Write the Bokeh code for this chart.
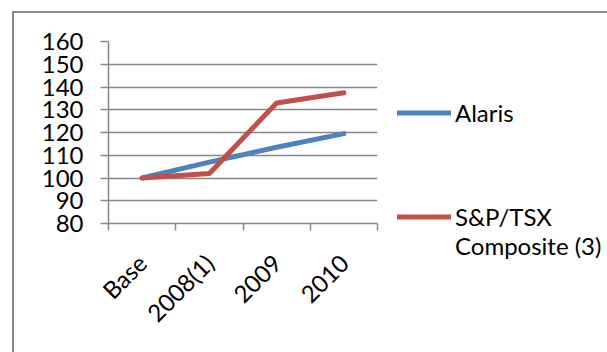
from bokeh.plotting import figure
from bokeh.models import Range1d, FixedTicker, Legend, LegendItem
from bokeh.embed import file_html
from bokeh.resources import INLINE
import math

categories = ["Base", "2008(1)", "2009", "2010"]
alaris = [100, 107, 113.5, 119.5]
sptsx = [100, 102, 133, 137.5]
y_ticks = [80, 90, 100, 110, 120, 130, 140, 150, 160]
series_names = ["Alaris", "S&P/TSX", "Composite (3)"]

FONT = "Lato"
FS = "24px"
GRAY = "#878787"

xs = [i + 0.5 for i in range(len(categories))]

p = figure(frame_width=269, frame_height=182, output_backend="svg", toolbar_location=None,
           x_range=Range1d(0, len(categories)), y_range=Range1d(80, 160),
           min_border_left=94, min_border_right=0, min_border_top=28, min_border_bottom=129)
p.styles = {"margin-left": "12px", "margin-top": "11px",
            "border-left": "2px solid #878787", "border-top": "2px solid #878787"}
p.outline_line_color = None

r1 = p.line(xs, alaris, line_color="#4F81BD", line_width=5, line_cap="round")
r2 = p.line(xs, sptsx, line_color="#C0504D", line_width=5, line_cap="round", line_join="round")
dummy = p.line([], [], line_alpha=0)

p.xgrid.visible = False
p.ygrid.ticker = FixedTicker(ticks=y_ticks)
p.ygrid.grid_line_color = GRAY
p.ygrid.grid_line_width = 1.5

xa = p.xaxis[0]
xa.ticker = FixedTicker(ticks=xs, minor_ticks=list(range(len(categories) + 1)))
xa.major_label_overrides = {x: c for x, c in zip(xs, categories)}
xa.major_tick_line_color = None
xa.minor_tick_line_color = GRAY
xa.minor_tick_line_width = 1.5
xa.minor_tick_out = 7
xa.minor_tick_in = 0
xa.axis_line_color = GRAY
xa.axis_line_width = 1.5
xa.major_label_orientation = math.pi / 4
xa.major_label_text_font = FONT
xa.major_label_text_font_size = FS
xa.major_label_text_color = "black"
xa.major_label_standoff = 28

ya = p.yaxis[0]
ya.ticker = FixedTicker(ticks=y_ticks)
ya.minor_tick_line_color = None
ya.major_tick_line_color = GRAY
ya.major_tick_line_width = 1.5
ya.major_tick_out = 8
ya.major_tick_in = 0
ya.axis_line_color = GRAY
ya.axis_line_width = 1.5
ya.major_label_text_font = FONT
ya.major_label_text_font_size = FS
ya.major_label_text_color = "black"
ya.major_label_standoff = 17

items = [LegendItem(label=series_names[0], renderers=[r1])]
for _ in range(3):
    items.append(LegendItem(label=" ", renderers=[dummy]))
items.append(LegendItem(label=series_names[1], renderers=[r2]))
items.append(LegendItem(label=series_names[2], renderers=[dummy]))

lg = Legend(items=items, location=(20, -37), border_line_color=None,
            background_fill_alpha=0, padding=0, margin=0, spacing=0,
            glyph_width=54, glyph_height=25, label_height=25,
            label_standoff=4, label_text_font=FONT, label_text_font_size=FS,
            label_text_color="black", label_text_baseline="middle")
p.add_layout(lg, "right")

open("out.html", "w").write(file_html(p, INLINE))
